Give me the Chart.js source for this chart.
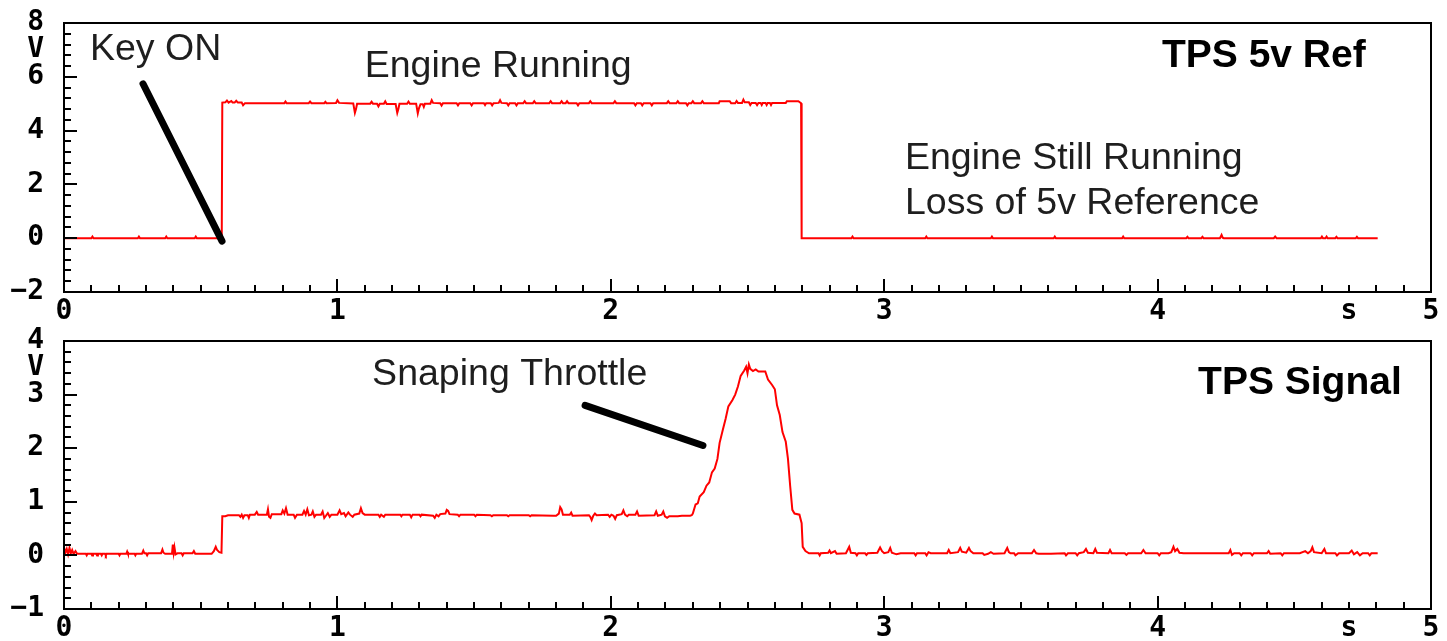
<!DOCTYPE html>
<html>
<head>
<meta charset="utf-8">
<script src="https://cdn.jsdelivr.net/npm/chart.js@4.4.1/dist/chart.umd.min.js"></script>
<style>
  html,body{margin:0;padding:0;background:#fff;}
  #wrap{position:relative;width:1447px;height:641px;}
  canvas{position:absolute;left:0;}
</style>
</head>
<body>
<div id="wrap">
  <canvas id="c1" width="1447" height="320" style="top:0;width:1447px;height:320px"></canvas>
  <canvas id="c2" width="1447" height="321" style="top:320px;width:1447px;height:321px"></canvas>
</div>
<script>
// ---------- DATA ----------
const xTickValues = [0, 1, 2, 3, 4, 4.7, 5];
const xTickLabels = ['0', '1', '2', '3', '4', 's', '5'];

const refYTickValues = [-2, 0, 2, 4, 6, 7, 8];
const refYTickLabels = ['\u22122', '0', '2', '4', '6', 'V', '8'];

const sigYTickValues = [-1, 0, 1, 2, 3, 3.5, 4];
const sigYTickLabels = ['\u22121', '0', '1', '2', '3', 'V', '4'];

// [time s, volts]
const tpsRefPoints = [
[0.000,0.00],[0.100,0.00],[0.104,0.06],[0.108,0.00],
[0.270,0.00],[0.274,0.06],[0.278,0.00],
[0.370,0.00],[0.374,0.06],[0.378,0.00],
[0.478,0.00],[0.482,0.06],[0.486,0.00],
[0.577,0.00],[0.579,5.04],[0.590,5.05],[0.596,5.12],[0.602,5.04],[0.612,5.10],[0.617,5.04],[0.624,5.04],[0.630,5.11],[0.636,5.04],[0.650,5.04],[0.655,4.94],[0.662,5.02],
[0.806,5.02],[0.810,5.08],[0.814,5.02],
[0.895,5.02],[0.900,5.08],[0.905,5.02],
[0.952,5.02],[0.956,5.07],[0.960,5.02],
[0.995,5.03],[1.000,5.13],[1.006,5.03],
[1.058,5.01],[1.064,4.66],[1.068,4.80],[1.072,5.00],
[1.120,5.00],[1.125,5.07],[1.130,5.00],
[1.145,5.00],[1.150,4.90],[1.155,5.00],
[1.170,5.00],[1.175,5.09],[1.180,4.99],
[1.213,4.99],[1.219,4.66],[1.223,4.80],[1.227,5.00],
[1.255,5.00],[1.260,5.08],[1.265,5.00],
[1.288,5.00],[1.294,4.64],[1.298,4.82],[1.304,4.98],[1.312,4.98],[1.316,4.88],[1.320,5.00],
[1.340,5.00],[1.345,5.13],[1.350,5.03],
[1.376,5.02],[1.381,4.93],[1.386,5.02],
[1.436,5.02],[1.441,4.94],[1.446,5.02],
[1.486,5.02],[1.491,4.94],[1.496,5.02],
[1.536,5.02],[1.540,4.95],[1.544,5.02],
[1.561,5.02],[1.566,4.94],[1.571,5.02],
[1.590,5.03],[1.595,5.13],[1.600,5.03],
[1.620,5.02],[1.625,4.94],[1.630,5.02],
[1.650,5.02],[1.655,4.94],[1.660,5.02],
[1.680,5.02],[1.685,5.09],[1.690,5.02],
[1.715,5.02],[1.720,5.09],[1.725,5.02],
[1.775,5.02],[1.780,5.09],[1.785,5.02],
[1.815,5.02],[1.820,5.09],[1.825,5.02],[1.835,5.02],[1.840,5.09],[1.845,5.02],
[1.875,5.02],[1.880,4.94],[1.885,5.02],
[1.920,5.02],[1.925,5.09],[1.930,5.02],
[2.010,5.02],[2.015,5.09],[2.020,5.02],
[2.085,5.02],[2.090,4.94],[2.095,5.02],
[2.110,5.02],[2.115,4.94],[2.120,5.02],
[2.145,5.02],[2.150,4.94],[2.155,5.02],
[2.205,5.02],[2.210,5.09],[2.215,5.02],
[2.240,5.02],[2.245,5.09],[2.250,5.02],
[2.275,5.02],[2.280,4.94],[2.285,5.02],
[2.295,5.02],[2.300,5.09],[2.305,5.02],
[2.330,5.02],[2.335,5.09],[2.340,5.02],
[2.395,5.02],[2.398,5.09],[2.435,5.09],[2.440,5.02],
[2.455,5.02],[2.460,5.10],[2.465,5.03],
[2.480,5.03],[2.485,5.15],[2.490,5.05],
[2.505,5.05],[2.510,4.95],[2.515,5.03],
[2.530,5.03],[2.535,4.95],[2.540,5.03],
[2.548,5.03],[2.552,4.95],[2.556,5.03],
[2.566,5.03],[2.570,4.95],[2.574,5.03],
[2.582,5.03],[2.586,4.95],[2.590,5.03],
[2.640,5.03],[2.644,5.09],[2.686,5.09],[2.696,5.02],
[2.698,0.00],
[2.880,0.00],[2.884,0.06],[2.888,0.00],
[3.150,0.00],[3.154,0.06],[3.158,0.00],
[3.390,0.00],[3.394,0.06],[3.398,0.00],
[3.620,0.00],[3.624,0.06],[3.628,0.00],
[3.870,0.00],[3.874,0.06],[3.878,0.00],
[4.105,0.00],[4.109,0.05],[4.113,0.00],
[4.160,0.00],[4.164,0.05],[4.168,0.00],
[4.228,0.00],[4.234,0.12],[4.238,0.02],[4.242,0.00],
[4.425,0.00],[4.430,0.06],[4.435,0.00],
[4.597,0.00],[4.601,0.06],[4.605,0.00],[4.614,0.00],[4.618,0.06],[4.622,0.00],
[4.650,0.00],[4.654,0.05],[4.658,0.00],
[4.725,0.00],[4.729,0.05],[4.733,0.00],
[4.805,0.00]
];

const tpsSignalPoints = [
[0.000,0.15],[0.005,0.05],[0.010,0.12],[0.015,0.02],[0.020,0.14],[0.025,0.04],[0.030,0.10],[0.035,0.03],[0.042,0.08],[0.048,0.03],[0.060,0.03],
[0.080,0.03],[0.083,0.00],[0.086,0.03],
[0.100,0.03],[0.103,0.00],[0.106,0.03],
[0.118,0.03],[0.121,0.00],[0.124,0.03],
[0.135,0.03],[0.138,0.00],[0.141,0.03],
[0.150,0.03],[0.153,0.00],[0.156,0.03],
[0.200,0.03],[0.203,0.00],[0.206,0.03],
[0.228,0.03],[0.231,0.07],[0.234,0.03],
[0.258,0.03],[0.261,0.00],[0.264,0.03],
[0.285,0.03],[0.290,0.09],[0.294,0.04],[0.300,0.04],[0.304,0.00],[0.308,0.04],
[0.355,0.04],[0.360,0.11],[0.364,0.05],[0.370,0.03],
[0.395,0.03],[0.398,0.20],[0.401,0.05],[0.404,0.15],[0.408,0.02],[0.415,0.04],
[0.430,0.04],[0.434,0.00],[0.438,0.04],
[0.470,0.04],[0.475,0.08],[0.480,0.03],
[0.540,0.03],[0.548,0.08],[0.555,0.16],[0.560,0.10],[0.568,0.06],[0.576,0.05],
[0.579,0.73],[0.590,0.73],[0.600,0.75],
[0.640,0.75],[0.645,0.72],[0.650,0.76],[0.655,0.70],[0.660,0.75],[0.672,0.75],[0.676,0.70],[0.680,0.76],[0.698,0.76],[0.705,0.81],[0.710,0.76],
[0.742,0.76],[0.746,0.86],[0.750,0.72],[0.755,0.70],[0.760,0.77],
[0.795,0.77],[0.800,0.84],[0.806,0.78],[0.812,0.88],[0.818,0.76],[0.840,0.76],[0.845,0.70],[0.852,0.76],
[0.872,0.76],[0.878,0.83],[0.884,0.76],[0.890,0.86],[0.896,0.75],[0.905,0.76],[0.910,0.82],[0.916,0.72],[0.922,0.76],
[0.940,0.76],[0.946,0.82],[0.952,0.70],[0.958,0.74],[0.965,0.79],[0.972,0.72],[0.978,0.76],
[1.000,0.76],[1.008,0.84],[1.014,0.77],[1.024,0.79],[1.030,0.73],[1.040,0.80],[1.046,0.76],
[1.056,0.72],[1.062,0.76],
[1.080,0.78],[1.086,0.88],[1.092,0.79],[1.100,0.76],
[1.150,0.76],[1.155,0.72],[1.160,0.76],[1.170,0.72],[1.175,0.76],
[1.230,0.76],[1.234,0.73],[1.238,0.76],
[1.265,0.76],[1.270,0.71],[1.275,0.76],
[1.300,0.76],[1.304,0.73],[1.308,0.76],
[1.350,0.74],[1.356,0.70],[1.362,0.76],[1.370,0.73],[1.376,0.77],
[1.395,0.78],[1.400,0.85],[1.405,0.83],[1.410,0.77],
[1.440,0.76],[1.445,0.73],[1.450,0.76],
[1.500,0.76],[1.505,0.73],[1.510,0.76],
[1.560,0.75],[1.565,0.73],[1.570,0.75],
[1.620,0.75],[1.625,0.73],[1.630,0.75],
[1.700,0.75],[1.705,0.73],[1.710,0.75],
[1.790,0.74],[1.800,0.74],[1.810,0.78],[1.815,0.90],[1.820,0.86],[1.825,0.76],
[1.850,0.76],[1.855,0.80],[1.860,0.74],
[1.920,0.75],[1.925,0.72],[1.930,0.66],[1.936,0.74],[1.942,0.78],[1.948,0.75],
[1.990,0.76],[1.996,0.72],[2.002,0.76],[2.010,0.74],[2.016,0.68],[2.022,0.75],
[2.040,0.77],[2.046,0.84],[2.052,0.76],[2.060,0.73],[2.066,0.76],
[2.090,0.76],[2.096,0.82],[2.102,0.74],
[2.160,0.75],[2.166,0.82],[2.172,0.74],[2.186,0.76],[2.192,0.82],[2.198,0.73],[2.206,0.70],[2.214,0.73],
[2.235,0.73],[2.245,0.73],[2.260,0.74],[2.290,0.74],[2.296,0.75],
[2.300,0.78],[2.310,0.95],[2.318,0.97],[2.325,1.10],[2.340,1.18],[2.350,1.30],[2.360,1.36],[2.370,1.55],[2.380,1.62],[2.390,1.80],[2.398,2.10],[2.410,2.35],[2.420,2.55],[2.430,2.78],[2.445,2.90],[2.455,3.00],[2.465,3.15],[2.475,3.35],[2.488,3.45],[2.495,3.52],[2.500,3.40],[2.505,3.56],[2.510,3.48],[2.520,3.44],[2.530,3.47],[2.540,3.43],[2.565,3.43],[2.575,3.28],[2.590,3.18],[2.600,3.10],[2.608,2.80],[2.618,2.62],[2.628,2.30],[2.640,2.12],[2.648,1.80],[2.656,1.30],[2.664,0.85],[2.672,0.78],[2.690,0.76],[2.698,0.60],[2.702,0.16],[2.712,0.08],[2.725,0.04],
[2.760,0.04],[2.764,0.00],[2.768,0.04],[2.795,0.05],[2.800,0.09],[2.805,0.04],[2.820,0.08],[2.826,0.03],[2.860,0.04],[2.868,0.12],[2.872,0.16],[2.878,0.05],[2.895,0.04],[2.900,0.00],[2.905,0.04],[2.930,0.04],[2.935,0.01],[2.940,0.04],
[2.975,0.05],[2.985,0.15],[2.992,0.08],[3.000,0.04],[3.015,0.06],[3.022,0.14],[3.028,0.05],[3.045,0.02],[3.060,0.04],
[3.110,0.04],[3.115,0.00],[3.120,0.04],[3.150,0.04],[3.155,0.00],[3.162,0.06],[3.170,0.04],
[3.230,0.04],[3.236,0.10],[3.242,0.04],[3.270,0.06],[3.278,0.14],[3.284,0.07],[3.300,0.05],[3.310,0.14],[3.316,0.08],[3.326,0.04],
[3.360,0.04],[3.366,0.01],[3.380,0.03],[3.390,0.06],[3.400,0.03],
[3.440,0.04],[3.450,0.14],[3.456,0.06],[3.462,0.04],[3.475,0.04],[3.480,0.00],[3.490,0.04],
[3.540,0.04],[3.548,0.10],[3.556,0.04],[3.565,0.03],[3.600,0.03],[3.610,0.03],
[3.660,0.04],[3.665,0.00],[3.672,0.04],[3.700,0.04],[3.706,0.00],[3.712,0.04],
[3.730,0.06],[3.738,0.12],[3.745,0.05],[3.765,0.04],[3.772,0.12],[3.778,0.05],
[3.820,0.04],[3.826,0.10],[3.832,0.04],[3.880,0.04],[3.886,0.01],[3.892,0.04],
[3.940,0.04],[3.948,0.10],[3.956,0.04],[4.000,0.04],[4.006,0.00],[4.012,0.04],
[4.040,0.04],[4.050,0.06],[4.058,0.16],[4.064,0.08],[4.072,0.12],[4.080,0.05],[4.095,0.04],
[4.150,0.04],[4.260,0.04],[4.266,0.10],[4.272,0.01],[4.280,0.04],
[4.300,0.04],[4.306,0.00],[4.312,0.04],[4.340,0.04],[4.346,0.00],[4.352,0.04],
[4.400,0.04],[4.406,0.08],[4.412,0.03],[4.450,0.04],[4.456,0.00],[4.462,0.04],
[4.520,0.04],[4.540,0.08],[4.550,0.04],[4.560,0.08],[4.566,0.15],[4.572,0.06],[4.600,0.04],[4.610,0.12],[4.616,0.04],
[4.650,0.04],[4.656,0.00],[4.664,0.04],[4.700,0.04],[4.710,0.09],[4.718,0.02],[4.730,0.06],[4.740,0.00],[4.750,0.04],[4.770,0.04],[4.776,0.00],[4.782,0.04],[4.805,0.04]
];

// annotation texts (text, anchor in data units)
const refNotes = [
  {text:'Key ON', t:0.095, v:7.02, bold:false},
  {text:'Engine Running', t:1.10, v:6.38, bold:false},
  {text:'TPS 5v Ref', t:4.016, v:6.78, bold:true},
  {text:'Engine Still Running', t:3.076, v:2.94, bold:false},
  {text:'Loss of 5v Reference', t:3.076, v:1.30, bold:false}
];
const sigNotes = [
  {text:'Snaping Throttle', t:1.127, v:3.38, bold:false},
  {text:'TPS Signal', t:4.148, v:3.21, bold:true}
];
// pointer lines [t1, v1, t2, v2]
const refPointers = [[0.289, 5.74, 0.578, -0.11]];
const sigPointers = [[1.906, 2.80, 2.337, 2.05]];

// ---------- RENDER ----------
const tickFont = {family:'DejaVu Sans Mono', size:28, weight:'bold'};

const framePlugin = {
  id: 'frame',
  afterDraw(chart, args, o) {
    const {ctx, chartArea: a, scales: {x, y}} = chart;
    ctx.save();
    ctx.strokeStyle = '#000';
    ctx.lineWidth = 2;
    ctx.strokeRect(a.left, a.top, a.right - a.left, a.bottom - a.top);
    ctx.beginPath();
    const nx = Math.round((x.max - x.min) / o.xMinor);
    for (let i = 0; i <= nx; i++) {
      const v = x.min + i * o.xMinor;
      const r = v / o.xMajor;
      const major = Math.abs(r - Math.round(r)) < 1e-6;
      const px = Math.round(x.getPixelForValue(v));
      ctx.moveTo(px, a.bottom);
      ctx.lineTo(px, a.bottom - (major ? 13 : 7));
    }
    const ny = Math.round((y.max - y.min) / o.yMinor);
    for (let i = 0; i <= ny; i++) {
      const v = y.min + i * o.yMinor;
      const r = v / o.yMajor;
      const major = Math.abs(r - Math.round(r)) < 1e-6;
      const py = Math.round(y.getPixelForValue(v));
      ctx.moveTo(a.left, py);
      ctx.lineTo(a.left + (major ? 13 : 7), py);
    }
    ctx.stroke();
    // pointers
    ctx.lineWidth = 7;
    ctx.lineCap = 'round';
    ctx.strokeStyle = '#000';
    for (const p of o.pointers) {
      ctx.beginPath();
      ctx.moveTo(x.getPixelForValue(p[0]), y.getPixelForValue(p[1]));
      ctx.lineTo(x.getPixelForValue(p[2]), y.getPixelForValue(p[3]));
      ctx.stroke();
    }
    // notes
    ctx.textAlign = 'left';
    ctx.textBaseline = 'middle';
    for (const n of o.notes) {
      ctx.font = n.bold ? 'bold 39px "Liberation Sans", Arial, sans-serif' : '37.5px "Liberation Sans", Arial, sans-serif';
      ctx.fillStyle = n.bold ? '#000' : '#1e1e1e';
      ctx.fillText(n.text, x.getPixelForValue(n.t), y.getPixelForValue(n.v));
    }
    ctx.restore();
  }
};

function makeChart(id, points, yVals, yLabels, yMin, yMax, yMinor, yMajor, notes, pointers, padTop, xHeight) {
  return new Chart(document.getElementById(id), {
    type: 'line',
    data: {
      datasets: [{
        data: points.map(p => ({x: p[0], y: p[1]})),
        borderColor: '#ff0000',
        borderWidth: 2,
        pointRadius: 0,
        tension: 0,
        fill: false
      }]
    },
    options: {
      responsive: false,
      animation: false,
      devicePixelRatio: 1,
      layout: {padding: {top: padTop, right: 16, left: 0, bottom: 0}},
      plugins: {
        legend: {display: false},
        tooltip: {enabled: false},
        frame: {xMinor: 0.1, xMajor: 1, yMinor: yMinor, yMajor: yMajor, notes: notes, pointers: pointers}
      },
      scales: {
        x: {
          type: 'linear', min: 0, max: 5,
          grid: {display: false, drawTicks: false},
          border: {display: false},
          afterBuildTicks: s => { s.ticks = xTickValues.map(v => ({value: v})); },
          afterFit: s => { s.height = xHeight; s.paddingLeft = 0; s.paddingRight = 0; },
          ticks: {
            autoSkip: false, maxRotation: 0, padding: 3,
            color: '#000', font: tickFont,
            callback: (v, i) => xTickLabels[i]
          }
        },
        y: {
          type: 'linear', min: yMin, max: yMax,
          grid: {display: false, drawTicks: false},
          border: {display: false},
          afterBuildTicks: s => { s.ticks = yVals.map(v => ({value: v})); },
          afterFit: s => { s.width = 64; s.paddingTop = 0; s.paddingBottom = 0; },
          ticks: {
            autoSkip: false, padding: 20,
            color: '#000', font: tickFont,
            callback: (v, i) => yLabels[i]
          }
        }
      }
    },
    plugins: [framePlugin]
  });
}

makeChart('c1', tpsRefPoints, refYTickValues, refYTickLabels, -2, 8, 0.4, 2, refNotes, refPointers, 23, 28);
makeChart('c2', tpsSignalPoints, sigYTickValues, sigYTickLabels, -1, 4, 0.2, 1, sigNotes, sigPointers, 21, 32);
</script>
</body>
</html>
